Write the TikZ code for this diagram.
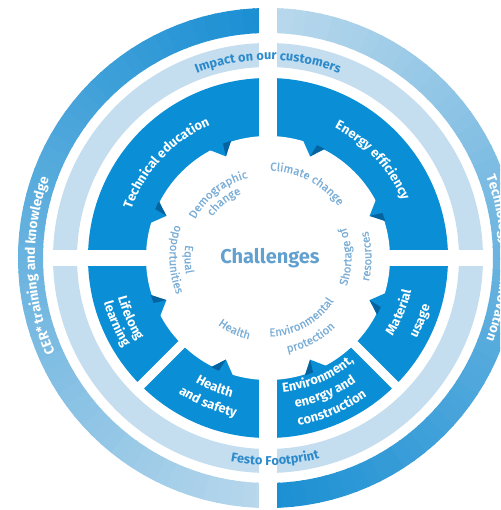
\documentclass[tikz,border=0pt]{standalone}
\usepackage{fontspec}
\setmainfont{Fira Sans}
\newfontfamily\chfont{Fira Sans}[FakeBold=0.4]
\usetikzlibrary{decorations.text}
\definecolor{festo}{HTML}{0A8ED6}
\definecolor{notchd}{HTML}{05649F}
\definecolor{outerD}{HTML}{1A8FD3}
\definecolor{outerL}{HTML}{B9D8EC}
\definecolor{midring}{HTML}{C4DDEF}
\definecolor{midtext}{HTML}{2B8ACB}
\definecolor{chtext}{HTML}{7AAED7}
\definecolor{chtitle}{HTML}{62A0CF}
\newcommand\ringsec[5]{\fill[#1] (#2:#4pt) -- (#2:#5pt) arc[start angle=#2, end angle=#3, radius=#5pt] -- (#3:#4pt) arc[start angle=#3, end angle=#2, radius=#4pt] -- cycle;}
\newcommand\arctext[5]{\path[decorate, decoration={text along path, text align=center, text={|#1|#5}}] (#3:#2pt) arc[start angle=#3, end angle=#4, radius=#2pt];}
\newcommand\labfmt{\color{white}\bfseries\fontsize{13}{15}\selectfont}
\newcommand\outfmt{\color{white}\bfseries\fontsize{13.5}{16}\selectfont}
\newcommand\midfmt{\color{midtext}\bfseries\fontsize{12.8}{15}\selectfont}
\newcommand\chfmt{\color{chtext}\chfont\fontsize{11.5}{13}\selectfont}
\begin{document}
\begin{tikzpicture}[x=1pt,y=1pt]
\useasboundingbox (-268,-252) rectangle (232,258);
\clip (-268,-252) rectangle (232,258);
% outer ring, left half: dark at top, light at bottom
\foreach \i in {0,...,59}{
  \pgfmathsetmacro\aa{90+3*\i}
  \pgfmathsetmacro\ab{90+3*\i+3.4}
  \pgfmathtruncatemacro\t{100*\i/59}
  \colorlet{cc}{outerL!\t!outerD}
  \ringsec{cc}{\aa}{\ab}{225}{250}
}
% outer ring, right half: light at top, dark at bottom
\foreach \i in {0,...,59}{
  \pgfmathsetmacro\aa{90-3*\i}
  \pgfmathsetmacro\ab{90-3*\i-3.4}
  \pgfmathtruncatemacro\t{100*\i/59}
  \colorlet{cc}{outerD!\t!outerL}
  \ringsec{cc}{\aa}{\ab}{225}{250}
}
% middle ring
\ringsec{midring}{0}{360}{191}{215}
% inner ring
\ringsec{festo}{0}{360}{110}{180}
% white gear centre
\fill[white] (0,0) circle[radius=122pt];
\foreach \k in {0,...,7}{
  \pgfmathsetmacro\th{22.5+45*\k}
  \pgfmathsetmacro\tha{\th+6}
  \pgfmathsetmacro\thb{\th-5}
  \pgfmathsetmacro\thc{\th-1}
  \fill[festo] (\tha:123pt) -- (\th:110pt) -- (\thb:123pt) -- cycle;
  \fill[notchd] (\th:110pt) -- (\thb:123pt) -- (\thc:123pt) -- cycle;
}
% gaps
\fill[white] (-9,-260) rectangle (9,260);
\fill[white] (-219,-8) rectangle (219,8);
\fill[white, rotate=225] (100,-4.5) rectangle (184,4.5);
\fill[white, rotate=315] (100,-4.5) rectangle (184,4.5);
% outer ring texts
\arctext{\outfmt}{233}{250}{114}{CER* training and knowledge}
\arctext{\outfmt}{233}{65}{-65}{Technology and innovation}
% middle ring texts
\arctext{\midfmt}{198}{160}{20}{Impact on our customers}
\arctext{\midfmt}{207}{222}{322}{Festo Footprint}
% inner segment labels
\arctext{\labfmt}{145}{177}{97}{Technical education}
\arctext{\labfmt}{146}{83}{3}{Energy efficiency}
\arctext{\labfmt}{155}{183}{224}{Lifelong}
\arctext{\labfmt}{170}{183}{224}{learning}
\arctext{\labfmt}{144}{227}{268}{Health}
\arctext{\labfmt}{162}{227}{268}{and safety}
\arctext{\labfmt}{135}{273}{313}{Environment,}
\arctext{\labfmt}{152}{273}{313}{energy and}
\arctext{\labfmt}{170}{273}{313}{construction}
\arctext{\labfmt}{147}{317}{358}{Material}
\arctext{\labfmt}{169}{317}{358}{usage}
% challenges
\arctext{\chfmt}{82.5}{168}{88}{Demographic}
\arctext{\chfmt}{69.5}{158}{98}{change}
\arctext{\chfmt}{87.5}{112}{13}{Climate change}
\arctext{\chfmt}{83.5}{-39}{41}{Shortage of}
\arctext{\chfmt}{103.5}{-39}{41}{resources}
\arctext{\chfmt}{78.5}{259}{339}{Environmental}
\arctext{\chfmt}{96.5}{258}{338}{protection}
\arctext{\chfmt}{83.5}{215}{275}{Health}
\arctext{\chfmt}{83.5}{151}{211}{Equal}
\arctext{\chfmt}{98.5}{151}{211}{opportunities}
\node (ch) at (2,0) {\color{chtitle}\bfseries\fontsize{20}{24}\selectfont Challenges};
\end{tikzpicture}
\end{document}
